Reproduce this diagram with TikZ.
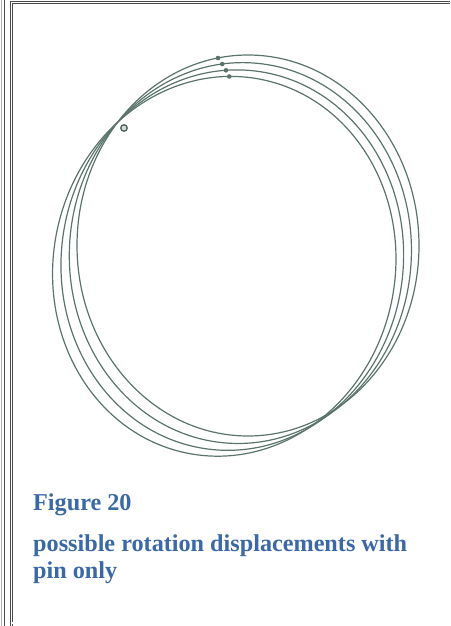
\documentclass[tikz,border=0pt]{standalone}
\usepackage{fontspec}
\setmainfont{Liberation Serif}
\definecolor{curvegrey}{HTML}{5A746C}
\definecolor{captionblue}{HTML}{3B68A6}
\definecolor{framegrey}{HTML}{4A4A4A}
\tikzset{
  curve/.style={curvegrey, line width=1.2pt},
  caption/.style={captionblue, font=\fontsize{24.2}{27}\selectfont\bfseries, inner sep=0pt, align=left},
  pinmark/.style={circle, draw=curvegrey!80!black, line width=1.3pt, fill=curvegrey!25, minimum size=6.5pt, inner sep=0pt}
}
\begin{document}
\begin{tikzpicture}[x=1pt, y=-1pt]
  \useasboundingbox (0,0) rectangle (450,626);
  % Frame
  \draw[framegrey!45, line width=0.9pt] (1.5,0) -- (1.5,626);
  \draw[framegrey, line width=1.2pt] (4.6,0) -- (4.6,626);
  \draw[framegrey, line width=0.8pt, double=white, double distance=1.3pt] (11.5,626) -- (11.5,2.4) -- (450,2.4);
  \draw[framegrey, line width=0.8pt, double=white, double distance=1.3pt] (11.5,623) -- (450,623);

  % Pin
  \coordinate (pin) at (124,128);

  % Ellipse turned round the pin
  \foreach \ang in {0,-3.6,-7.2,-10.6} {
    \begin{scope}[rotate around={\ang:(pin)}]
      \draw[curve] (248,245.5) ellipse [x radius=171, y radius=190.5];
      \fill[curvegrey] (218,58) circle (2.3);
    \end{scope}
  }
  \node[pinmark] (pinring) at (pin) {};

  % Caption
  \node[caption, anchor=base west] (figlabel) at (33,510) {Figure 20};
  \node[caption, anchor=north west] (figtext) at (33,535) {possible rotation displacements with\\pin only};
\end{tikzpicture}
\end{document}
